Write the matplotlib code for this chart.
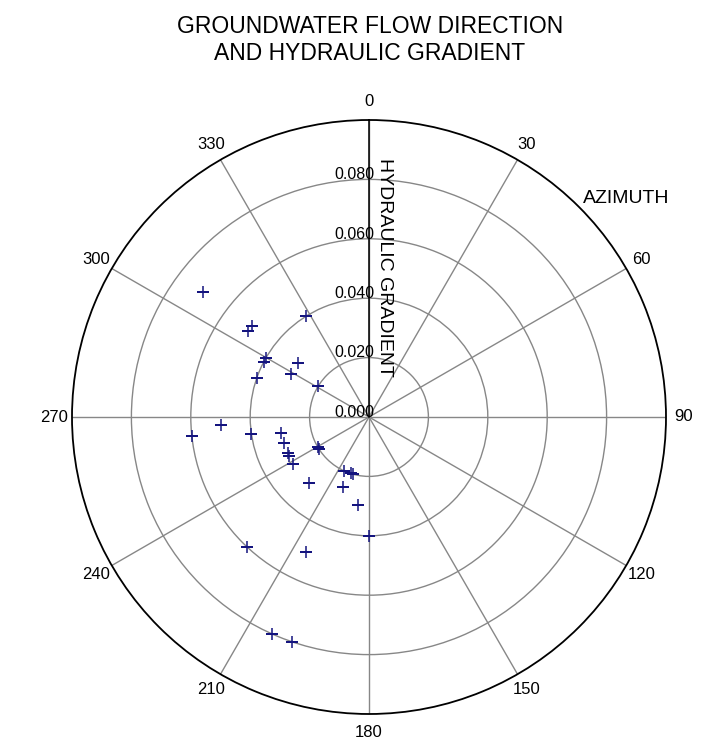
import numpy as np
import matplotlib
matplotlib.use("Agg")
import matplotlib.pyplot as plt

plt.rcParams['font.family'] = ['Liberation Sans', 'DejaVu Sans']

# flow direction (azimuth, degrees clockwise from north) and hydraulic gradient
azimuth = [307, 308, 305.5, 328, 300, 297.5, 307, 299, 289, 301,
           267, 264, 262, 259.5, 253, 246, 244, 238.5, 240, 237,
           222, 204.5, 198, 196, 200.5, 187, 180, 223, 205, 204, 199]
gradient = [0.070, 0.050, 0.050, 0.040, 0.040, 0.040, 0.030, 0.030, 0.040, 0.020,
            0.050, 0.060, 0.040, 0.030, 0.030, 0.030, 0.030, 0.030, 0.020, 0.020,
            0.030, 0.020, 0.020, 0.020, 0.025, 0.030, 0.040, 0.060, 0.050, 0.080, 0.080]

angle_ticks = list(range(0, 360, 30))
angle_labels = [str(a) for a in angle_ticks]
ring_values = [0.0, 0.02, 0.04, 0.06, 0.08]
ring_labels = ['0.000', '0.020', '0.040', '0.060', '0.080']

fig = plt.figure(figsize=[7.19, 7.5], dpi=100)
ax = fig.add_axes([72/719, 36/750, 594/719, 594/750], projection='polar')
ax.set_theta_zero_location('N')
ax.set_theta_direction(-1)
ax.set_ylim(0, 0.1)

ax.set_thetagrids(angle_ticks, angle_labels, fontsize=12)
ax.set_rgrids([0.02, 0.04, 0.06, 0.08], labels=[''] * 4)
ax.grid(True, color='#878787', linewidth=1.0)
ax.tick_params(axis='x', direction='out', length=5, width=1, color='black', pad=1)
ax.spines['polar'].set_color('black')
ax.spines['polar'].set_linewidth(1.3)

# black radial axis pointing north
ax.plot([0, 0], [0, 0.1], color='black', linewidth=1.1, zorder=3)
for r, lab in zip(ring_values, ring_labels):
    ax.annotate(lab, xy=(0, r), xytext=(4, -2), textcoords='offset points',
                ha='right', va='bottom', fontsize=11.5)

ax.plot(np.radians(azimuth), gradient, linestyle='none', marker='+',
        markersize=9, markeredgewidth=1.1, color='#14147f', zorder=4)

fig.text(384/719, 1 - 267/750, 'HYDRAULIC GRADIENT', rotation=270,
         ha='center', va='center', fontsize=14)
fig.text(626/719, 1 - 198.5/750, 'AZIMUTH', ha='center', va='center', fontsize=14)
fig.text(0.5146, 1 - 40/750, 'GROUNDWATER FLOW DIRECTION\nAND HYDRAULIC GRADIENT',
         ha='center', va='center', fontsize=16.5, linespacing=1.25)

fig.savefig('out.png', dpi=100)
